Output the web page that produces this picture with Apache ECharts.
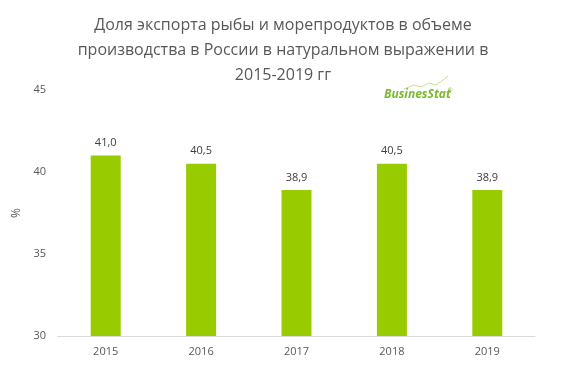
<!DOCTYPE html>
<html><head><meta charset="utf-8">
<script src="https://cdn.jsdelivr.net/npm/echarts@6/dist/echarts.min.js"></script>
<style>html,body{margin:0;padding:0;background:#fff}#c{width:563px;height:383px}</style>
</head><body><div id="c"></div>
<script>
var categories = ['2015','2016','2017','2018','2019'];
var values = [41.0, 40.5, 38.9, 40.5, 38.9];
var yTicks = [30, 35, 40, 45];
var titleText = 'Доля экспорта рыбы и морепродуктов в объеме\nпроизводства в России в натуральном выражении в\n2015-2019 гг';

var chart = echarts.init(document.getElementById('c'));
chart.setOption({
  animation: false,
  title: {
    text: titleText,
    left: 278, top: 8, textAlign: 'center',
    textStyle: {fontFamily: 'Open Sans', fontSize: 16, fontWeight: 'normal', color: '#595959', lineHeight: 25}
  },
  graphic: [{
    type: 'polyline', shape: {points: [[404,89],[414,85],[421,87],[429,83],[436,85],[443,80],[448,76]]},
    style: {stroke: '#c5e08a', lineWidth: 1, fill: null}
  }, {
    type: 'text', left: 384, top: 89,
    style: {text: 'BusinesStat', fontFamily: 'Open Sans', fontSize: 12, fontWeight: 'bold', fontStyle: 'italic', fill: '#7ab92f'}
  }, {
    type: 'text', left: 448, top: 87,
    style: {text: '®', fontSize: 6, fill: '#7ab92f'}
  }],
  grid: {left: 58, right: 28, top: 90, bottom: 47},
  xAxis: {
    type: 'category', data: categories,
    axisLine: {lineStyle: {color: '#d9d9d9'}},
    axisTick: {show: false},
    axisLabel: {color: '#595959', fontFamily: 'Open Sans', fontSize: 11, margin: 10}
  },
  yAxis: {
    type: 'value', min: yTicks[0], max: yTicks[yTicks.length-1], interval: 5,
    name: '%', nameLocation: 'middle', nameGap: 34, nameRotate: 90,
    nameTextStyle: {color: '#595959', fontFamily: 'Open Sans', fontSize: 12},
    axisLine: {show: false}, axisTick: {show: false}, splitLine: {show: false},
    axisLabel: {color: '#595959', fontFamily: 'Open Sans', fontSize: 11, margin: 12}
  },
  series: [{
    type: 'bar', data: values, barWidth: 30,
    itemStyle: {color: '#99cc00'},
    label: {show: true, position: 'top', distance: 7, color: '#404040', fontFamily: 'Open Sans', fontSize: 11,
      formatter: function(p){return p.value.toFixed(1).replace('.', ',');}}
  }]
});
</script></body></html>
